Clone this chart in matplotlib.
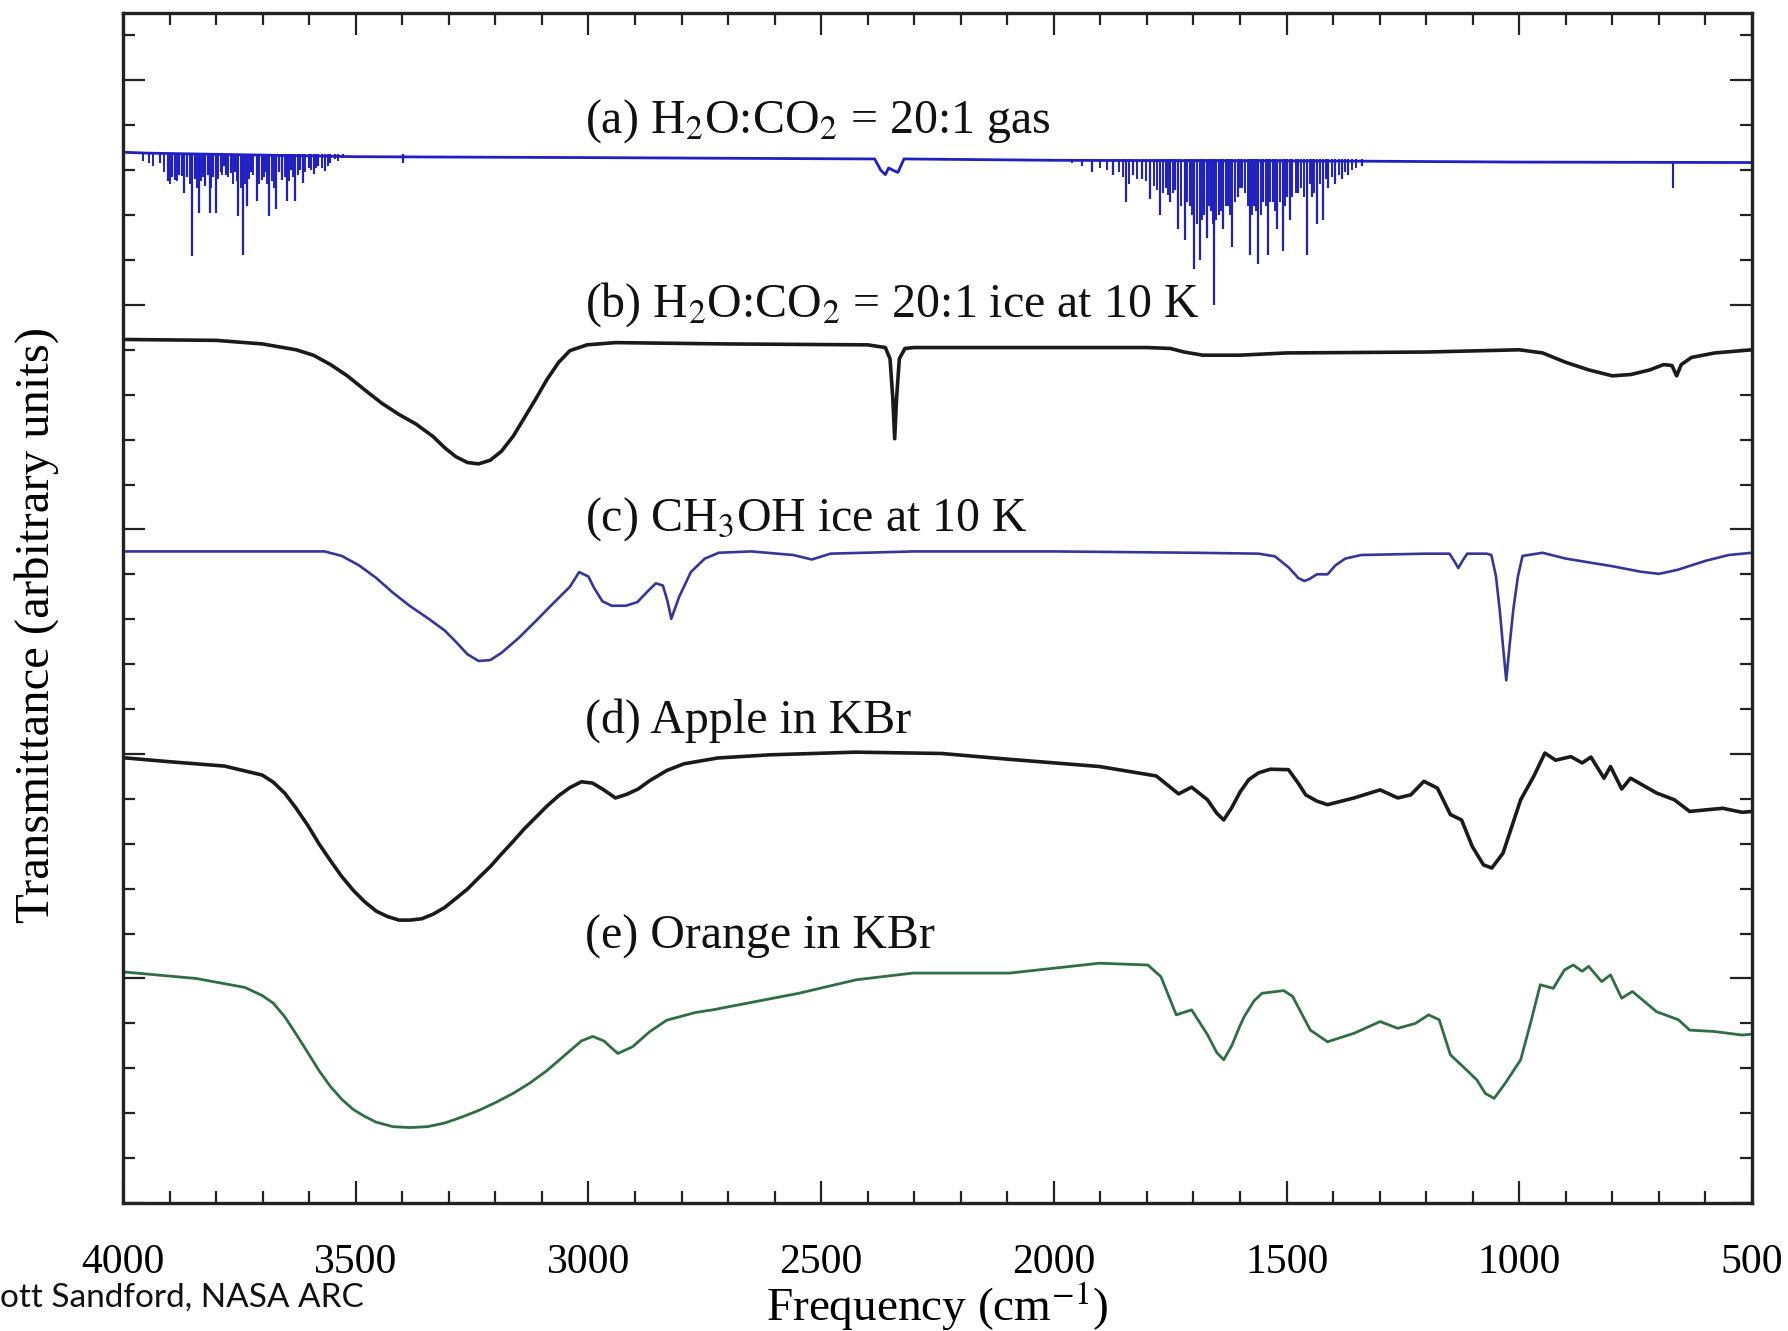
import numpy as np
import matplotlib
matplotlib.use("Agg")
import matplotlib.pyplot as plt
from matplotlib.ticker import MultipleLocator

plt.rcParams["font.family"] = ["Liberation Serif", "DejaVu Serif"]
plt.rcParams["mathtext.fontset"] = "stix"

# (a) H2O:CO2 gas - baseline + individual absorption lines
gas_base_freq = [4000, 3950, 3500, 3000, 2400, 2385, 2372, 2362, 2355, 2346, 2335, 2322, 2000, 1330, 1000, 500]
gas_base_val = [23.40, 23.38, 23.30, 23.28, 23.25, 23.25, 23.00, 22.90, 23.05, 23.00, 22.95, 23.25, 23.22, 23.20, 23.18, 23.17]

gas_oh_freq = [3920, 3903, 3895, 3888, 3880, 3874, 3869, 3862, 3852, 3845,
               3836, 3828, 3824, 3818, 3813, 3806, 3800, 3790, 3784, 3778,
               3769, 3760, 3752, 3743, 3733, 3725, 3713, 3702, 3695, 3686,
               3672, 3665, 3659, 3648, 3640, 3630, 3620, 3614, 3600, 3590,
               3580, 3567, 3555, 3544, 3527, 3398]
gas_oh_val = [23.17, 22.76, 22.85, 22.79, 22.90, 22.87, 22.50, 22.85, 21.09, 22.80,
              22.05, 22.85, 22.65, 22.90, 22.05, 22.85, 22.05, 22.95, 23.09, 22.90,
              22.94, 22.95, 21.98, 21.12, 22.20, 22.95, 22.31, 22.79, 22.95, 21.98,
              22.13, 22.95, 22.79, 22.31, 23.00, 22.31, 23.00, 22.72, 23.05, 22.91,
              23.10, 22.98, 23.15, 23.24, 23.28, 23.17]
gas_oh_weak_freq = [3958, 3945, 3935, 3912, 3898, 3884, 3857, 3840, 3832, 3810,
                    3796, 3787, 3774, 3764, 3756, 3747, 3738, 3729, 3720, 3707,
                    3698, 3690, 3680, 3676, 3653, 3644, 3635, 3625, 3608, 3595,
                    3585, 3572, 3560, 3538]
gas_oh_weak_val = [23.20, 23.15, 23.10, 22.95, 22.70, 22.75, 22.70, 22.60, 22.75, 22.60,
                   22.80, 22.90, 22.85, 22.70, 22.75, 22.60, 22.70, 22.80, 22.90, 22.70,
                   22.85, 22.70, 22.75, 22.60, 22.85, 22.75, 22.85, 22.90, 22.95, 23.00,
                   23.05, 23.05, 23.10, 23.20]

gas_bend_freq = [1939, 1918, 1873, 1845, 1830, 1810, 1793, 1772, 1760, 1750,
                 1740, 1733, 1718, 1708, 1699, 1686, 1678, 1671, 1663, 1656,
                 1645, 1636, 1626, 1617, 1605, 1595, 1578, 1570, 1561, 1550,
                 1540, 1530, 1521, 1507, 1500, 1493, 1475, 1456, 1445, 1435,
                 1421, 1410, 1396, 1380, 1368, 1338]
gas_bend_val = [23.10, 22.95, 22.90, 22.30, 22.90, 22.80, 22.35, 22.00, 22.60, 22.30,
                22.55, 21.70, 21.45, 22.20, 20.80, 21.00, 22.00, 21.50, 22.10, 20.00,
                22.00, 21.70, 22.20, 21.30, 22.40, 22.60, 21.10, 22.20, 20.90, 22.30,
                21.10, 22.30, 21.70, 21.20, 22.40, 21.90, 22.50, 21.10, 22.40, 21.80,
                21.90, 22.60, 22.70, 22.80, 22.90, 23.10]
gas_bend_weak_freq = [1960, 1900, 1885, 1860, 1852, 1838, 1822, 1802, 1785, 1778,
                      1766, 1755, 1745, 1726, 1713, 1703, 1692, 1682, 1667, 1659,
                      1651, 1640, 1631, 1621, 1610, 1600, 1590, 1583, 1574, 1565,
                      1556, 1545, 1535, 1525, 1515, 1503, 1488, 1480, 1468, 1462,
                      1450, 1440, 1428, 1415, 1402, 1388, 1374, 1360, 1350]
gas_bend_weak_val = [23.15, 23.05, 23.00, 22.95, 22.85, 22.70, 22.80, 22.75, 22.65, 22.55,
                     22.50, 22.45, 22.50, 22.20, 22.30, 22.00, 21.80, 21.90, 22.20, 21.80,
                     21.90, 22.10, 22.20, 22.00, 22.30, 22.60, 22.50, 22.20, 22.00, 22.10,
                     22.00, 22.20, 22.30, 22.10, 22.30, 22.20, 22.40, 22.50, 22.60, 22.40,
                     22.70, 22.50, 22.70, 22.80, 22.85, 22.90, 22.95, 23.00, 23.05]

gas_line_freq = [670]
gas_line_val = [22.60]

# (b) H2O:CO2 ice at 10 K
b_freq = [4000, 3800, 3700, 3628, 3591, 3554, 3518, 3481, 3444, 3407,
          3371, 3334, 3309, 3285, 3260, 3236, 3211, 3187, 3162, 3138,
          3113, 3089, 3064, 3040, 3003, 2942, 2700, 2400, 2362, 2352,
          2346, 2342, 2338, 2332, 2320, 2300, 2000, 1800, 1750, 1720,
          1680, 1600, 1500, 1200, 1000, 950, 900, 850, 800, 760,
          720, 690, 672, 662, 652, 630, 580, 500]
b_val = [19.23, 19.21, 19.13, 19.00, 18.88, 18.67, 18.42, 18.11, 17.81, 17.56,
         17.35, 17.07, 16.82, 16.62, 16.49, 16.46, 16.54, 16.74, 17.07, 17.48,
         17.91, 18.34, 18.72, 18.98, 19.11, 19.16, 19.13, 19.11, 19.05, 18.80,
         17.91, 17.02, 17.91, 18.80, 19.03, 19.05, 19.05, 19.05, 19.03, 18.95,
         18.88, 18.88, 18.93, 18.95, 19.00, 18.93, 18.72, 18.55, 18.42, 18.45,
         18.55, 18.67, 18.65, 18.42, 18.67, 18.83, 18.93, 19.00]

# (c) CH3OH ice at 10 K
c_freq = [4000, 3567, 3530, 3493, 3456, 3420, 3383, 3346, 3309, 3285,
          3260, 3236, 3211, 3187, 3150, 3113, 3077, 3040, 3020, 3000,
          2988, 2970, 2950, 2920, 2895, 2870, 2855, 2840, 2830, 2822,
          2805, 2780, 2750, 2720, 2650, 2560, 2520, 2480, 2300, 2000,
          1700, 1560, 1525, 1495, 1475, 1462, 1450, 1435, 1412, 1395,
          1374, 1340, 1200, 1150, 1140, 1131, 1122, 1112, 1070, 1060,
          1050, 1042, 1035, 1028, 1021, 1013, 1003, 993, 950, 900,
          800, 740, 700, 660, 600, 550, 500]
c_val = [14.51, 14.51, 14.41, 14.20, 13.92, 13.59, 13.29, 13.03, 12.75, 12.50,
         12.22, 12.07, 12.09, 12.25, 12.58, 12.96, 13.34, 13.72, 14.05, 13.95,
         13.70, 13.40, 13.30, 13.30, 13.38, 13.65, 13.80, 13.75, 13.40, 13.01,
         13.50, 14.05, 14.35, 14.48, 14.51, 14.43, 14.33, 14.46, 14.51, 14.51,
         14.48, 14.46, 14.40, 14.15, 13.92, 13.85, 13.90, 14.00, 14.00, 14.20,
         14.35, 14.43, 14.46, 14.46, 14.30, 14.14, 14.30, 14.46, 14.46, 14.43,
         13.95, 13.20, 12.40, 11.64, 12.40, 13.20, 13.95, 14.41, 14.48, 14.35,
         14.18, 14.06, 14.01, 14.10, 14.30, 14.43, 14.48]

# (d) Apple in KBr
d_freq = [3993, 3904, 3782, 3701, 3677, 3652, 3628, 3603, 3579, 3554,
          3530, 3505, 3481, 3456, 3432, 3407, 3383, 3358, 3334, 3309,
          3285, 3260, 3236, 3211, 3187, 3162, 3138, 3113, 3089, 3064,
          3040, 3015, 2991, 2967, 2942, 2918, 2893, 2869, 2832, 2795,
          2722, 2611, 2425, 2241, 2095, 1902, 1780, 1732,
          1704, 1670, 1650, 1635, 1618, 1600, 1581, 1560, 1535, 1496,
          1475, 1459, 1435, 1412, 1355, 1299, 1261, 1233, 1205, 1176,
          1148, 1124, 1101, 1077, 1059, 1035, 997, 969, 945, 922,
          889, 865, 846, 818, 804, 780, 761, 705, 667, 634,
          563, 521, 500]
d_val = [9.91, 9.83, 9.73, 9.53, 9.37, 9.12, 8.79, 8.41, 8.00, 7.62,
         7.27, 6.96, 6.71, 6.50, 6.38, 6.30, 6.30, 6.33, 6.43, 6.58,
         6.78, 6.99, 7.24, 7.49, 7.77, 8.05, 8.33, 8.59, 8.84, 9.07,
         9.25, 9.38, 9.35, 9.20, 9.02, 9.10, 9.22, 9.40, 9.63, 9.78,
         9.91, 9.98, 10.04, 10.01, 9.88, 9.72, 9.51, 9.11,
         9.26, 8.98, 8.68, 8.53, 8.80, 9.15, 9.43, 9.58, 9.66, 9.65,
         9.35, 9.09, 8.95, 8.87, 9.02, 9.20, 9.02, 9.09, 9.39, 9.24,
         8.65, 8.53, 7.94, 7.53, 7.46, 7.79, 8.98, 9.50, 10.02, 9.86,
         9.94, 9.80, 9.93, 9.46, 9.72, 9.22, 9.46, 9.13, 8.98, 8.72,
         8.79, 8.70, 8.72]

# (e) Orange in KBr
e_freq = [3993, 3843, 3738, 3701, 3677, 3652, 3628, 3603, 3579, 3554,
          3530, 3505, 3481, 3456, 3420, 3383, 3346, 3309, 3273, 3236,
          3199, 3162, 3126, 3089, 3052, 3015, 2991, 2967, 2937, 2905,
          2869, 2832, 2771, 2734, 2548, 2425, 2303, 2095, 1902, 1798,
          1770, 1737, 1704, 1670, 1650, 1635, 1618, 1600, 1591, 1570,
          1553, 1506, 1487, 1449, 1412, 1355, 1299, 1261, 1223, 1195,
          1172, 1148, 1110, 1091, 1073, 1054, 1030, 997, 974, 955,
          927, 903, 884, 865, 851, 823, 804, 780, 757, 705,
          658, 634, 582, 521, 500]
e_val = [5.14, 5.00, 4.80, 4.62, 4.45, 4.14, 3.76, 3.35, 2.95, 2.59,
         2.31, 2.08, 1.93, 1.80, 1.70, 1.68, 1.70, 1.78, 1.91, 2.06,
         2.24, 2.44, 2.67, 2.95, 3.28, 3.61, 3.71, 3.61, 3.33, 3.48,
         3.81, 4.07, 4.24, 4.30, 4.67, 4.97, 5.12, 5.12, 5.34, 5.30,
         5.04, 4.19, 4.30, 3.75, 3.35, 3.19, 3.50, 3.95, 4.15, 4.50,
         4.67, 4.73, 4.60, 3.85, 3.59, 3.78, 4.04, 3.89, 4.00, 4.19,
         4.08, 3.30, 2.93, 2.74, 2.44, 2.33, 2.67, 3.19, 4.08, 4.86,
         4.78, 5.19, 5.30, 5.16, 5.27, 4.93, 5.08, 4.56, 4.71, 4.26,
         4.08, 3.85, 3.82, 3.74, 3.76]

labels = [r"(a) H$_2$O:CO$_2$ = 20:1 gas",
          r"(b) H$_2$O:CO$_2$ = 20:1 ice at 10 K",
          r"(c) CH$_3$OH ice at 10 K",
          "(d) Apple in KBr",
          "(e) Orange in KBr"]
label_y = [24.09, 20.0, 15.24, 10.75, 5.92]

gas_color = "#1f1fc4"
c_color = "#35359a"
dark = "#1a1a1a"
green = "#2f6e45"

fig = plt.figure(figsize=(17.88, 13.31), dpi=100)
ax = fig.add_axes([123 / 1788, 128 / 1331, 1629 / 1788, 1190 / 1331])

# gas spectrum
ax.plot(gas_base_freq, gas_base_val, color=gas_color, lw=2.0)
ax.vlines(gas_oh_freq, gas_oh_val, 23.35, color=gas_color, lw=1.6)
ax.vlines(gas_oh_weak_freq, gas_oh_weak_val, 23.35, color=gas_color, lw=1.4)
ax.vlines(gas_bend_freq, gas_bend_val, 23.24, color=gas_color, lw=1.6)
ax.vlines(gas_bend_weak_freq, gas_bend_weak_val, 23.24, color=gas_color, lw=1.4)
ax.vlines(gas_line_freq, gas_line_val, 23.17, color=gas_color, lw=1.5)

ax.plot(b_freq, b_val, color=dark, lw=2.6, solid_joinstyle="round")
ax.plot(c_freq, c_val, color=c_color, lw=1.9, solid_joinstyle="round")
ax.plot(d_freq, d_val, color=dark, lw=2.6, solid_joinstyle="round")
ax.plot(e_freq, e_val, color=green, lw=2.0, solid_joinstyle="round")

for txt, yy in zip(labels, label_y):
    ax.text(3008, yy, txt, fontsize=34.5, ha="left", va="center", color="#111111")

ax.set_xlim(4000, 500)
ax.set_ylim(0, 26.5)
ax.xaxis.set_major_locator(MultipleLocator(500))
ax.xaxis.set_minor_locator(MultipleLocator(100))
ax.yaxis.set_major_locator(MultipleLocator(5))
ax.yaxis.set_minor_locator(MultipleLocator(1))
ax.tick_params(which="both", direction="in", top=True, right=True, width=1.6, color="#222222")
ax.tick_params(which="major", length=16)
ax.tick_params(which="minor", length=8.5)
ax.tick_params(axis="x", which="major", labelsize=30, pad=29, labelfontfamily="Liberation Serif")
ax.tick_params(axis="y", labelleft=False)
for sp in ax.spines.values():
    sp.set_linewidth(2.4)
    sp.set_color("#222222")

ax.set_xlabel(r"Frequency (cm$^{-1}$)", fontsize=34, va="center")
ax.xaxis.set_label_coords(0.5, -0.087)
ax.set_ylabel("Transmittance (arbitrary units)", fontsize=35, va="center")
ax.yaxis.set_label_coords(-0.053, 0.486)

fig.text(0.0, 0.0248, "ott Sandford, NASA ARC", fontsize=24, family=["Lato", "DejaVu Sans"],
         ha="left", va="center", color="#111111")

fig.savefig("out.png", dpi=100)
